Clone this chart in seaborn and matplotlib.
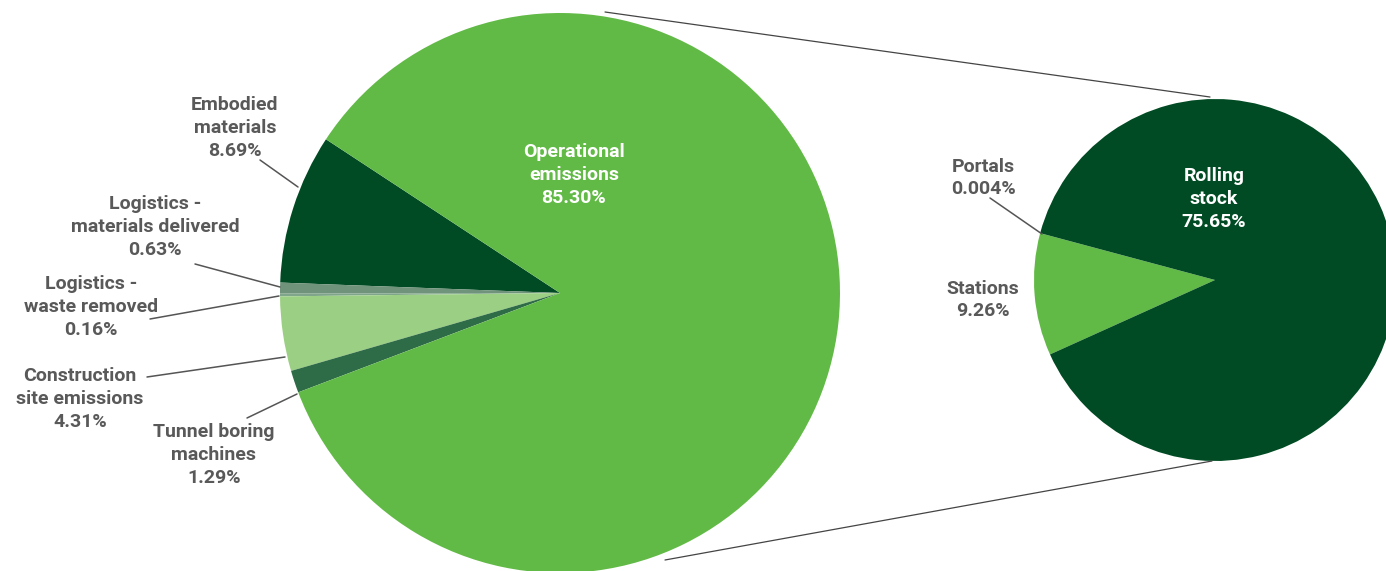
import matplotlib
matplotlib.use("Agg")
import matplotlib.pyplot as plt
import seaborn as sns

# ---- data ----
main_labels = ["Embodied\nmaterials", "Logistics -\nmaterials delivered", "Logistics -\nwaste removed",
               "Construction\nsite emissions", "Tunnel boring\nmachines", "Operational\nemissions"]
main_values = [8.69, 0.63, 0.16, 4.31, 1.29, 85.30]
main_pct = ["8.69%", "0.63%", "0.16%", "4.31%", "1.29%", "85.30%"]

sub_labels = ["Portals", "Stations", "Rolling\nstock"]
sub_values = [0.004, 9.26, 75.65]
sub_pct = ["0.004%", "9.26%", "75.65%"]

# ---- styles ----
main_colors = ["#004b23", "#6f937b", "#7fa58a", "#9bcf83", "#2e6b47", "#62ba46"]
sub_colors = ["#004b23", "#62ba46", "#004b23"]
TEXT = "#595959"
LINE = "#555555"

sns.set_theme(style="white")
plt.rcParams["font.family"] = ["Roboto", "DejaVu Sans"]

W, H = 1386, 571
fig = plt.figure(figsize=(W / 100, H / 100), dpi=100)
ax = fig.add_axes([0, 0, 1, 1])

def Y(yp):
    return H - yp

ax.pie(main_values, colors=main_colors, startangle=146.7, counterclock=True,
       center=(560, Y(293)), radius=280, frame=True,
       wedgeprops=dict(linewidth=0))
ax.pie(sub_values, colors=sub_colors, startangle=165, counterclock=True,
       center=(1215, Y(280)), radius=181, frame=True,
       wedgeprops=dict(linewidth=0))

ax.set_xlim(0, W)
ax.set_ylim(0, H)
ax.set_aspect("equal")
ax.axis("off")

# connector lines between pies
ax.plot([605, 1210], [Y(12), Y(97)], color="#444444", lw=0.9)
ax.plot([665, 1212], [Y(560), Y(461)], color="#444444", lw=0.9)

fs = 14
LS = 1.33
# label layout: (center x, center y in px, color, leader line or None)
main_layout = [
    (235, 128, TEXT, ((260, 160), (298, 187))),
    (155, 227, TEXT, ((195, 264), (280, 287))),
    (91, 307, TEXT, ((150, 319), (279, 296))),
    (80, 399, TEXT, ((147, 377), (285, 357))),
    (214, 455, TEXT, ((247, 418), (297, 394))),
    (574, 175, "white", None),
]
for lab, pct, (x, y, c, ld) in zip(main_labels, main_pct, main_layout):
    ax.text(x, Y(y), lab + "\n" + pct, ha="center", va="center", color=c,
            fontsize=fs, fontweight="bold", linespacing=LS)
    if ld:
        (x0, y0), (x1, y1) = ld
        ax.plot([x0, x1], [Y(y0), Y(y1)], color=LINE, lw=1.1)

sub_layout = [
    (983, 178, TEXT, ((990, 198), (1042, 234))),
    (983, 300, TEXT, None),
    (1214, 199, "white", None),
]
for lab, pct, (x, y, c, ld) in zip(sub_labels, sub_pct, sub_layout):
    ax.text(x, Y(y), lab + "\n" + pct, ha="center", va="center", color=c,
            fontsize=fs, fontweight="bold", linespacing=LS)
    if ld:
        (x0, y0), (x1, y1) = ld
        ax.plot([x0, x1], [Y(y0), Y(y1)], color=LINE, lw=1.1)

fig.savefig("out.png", dpi=100)
